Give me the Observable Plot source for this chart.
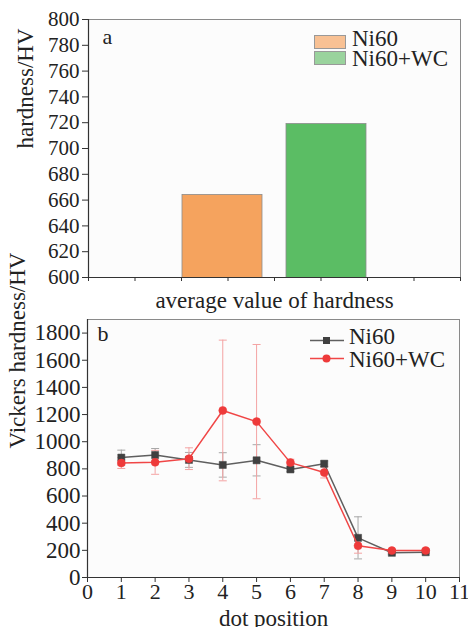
<!DOCTYPE html>
<html><head><meta charset="utf-8">
<script src="https://cdn.jsdelivr.net/npm/d3@7"></script>
<script src="https://cdn.jsdelivr.net/npm/@observablehq/plot@0.6"></script>
<style>
body{margin:0;background:#fff;}
#wrap{position:relative;width:468px;height:627px;overflow:hidden;font-family:"Liberation Serif",serif;color:#222;}
#wrap > svg{position:absolute;left:0;}
.leg{position:absolute;font-size:23px;line-height:20px;white-space:nowrap;}
.sym{position:absolute;}
</style></head><body><div id="wrap"></div>
<script>
// ---- panel a data ----
const barCategories = ["Ni60", "Ni60+WC"];
const barValues = [664, 719];
const barColors = ["#f5a35e", "#5bbd64"];
const swatchColors = ["#f8c194", "#9ad39d"];
const yTicksA = d3.range(600, 801, 20);
const xTitleA = "average value of hardness";
const yTitleA = "hardness/HV";

// ---- panel b data ----
const dotPositions = [1, 2, 3, 4, 5, 6, 7, 8, 9, 10];
const ni60Hardness = [883, 902, 866, 829, 863, 796, 838, 292, 182, 186];
const ni60Error = [55, 48, 55, 90, 115, 15, 20, 155, 10, 10];
const wcHardness = [843, 848, 875, 1230, 1148, 846, 773, 234, 198, 198];
const wcError = [40, 88, 80, 518, 568, 25, 40, 55, 10, 10];
const xTicksB = d3.range(0, 12);
const yTicksB = d3.range(0, 1801, 200);
const xTitleB = "dot position";
const yTitleB = "Vickers hardness/HV";
const seriesNames = ["Ni60", "Ni60+WC"];
const lineColors = ["#5f5f5f", "#f04646"];
const markColors = ["#404040", "#ee3a3a"];
const errColors = ["#a8a8a8", "#f4a3a3"];

const wrap = document.getElementById("wrap");
const font = "'Liberation Serif', 'Times New Roman', serif";

// ---------- Panel a ----------
const barsData = barCategories.map((c, i) => ({cat: c, value: barValues[i], color: barColors[i]}));
const commonA = {width: 468, height: 312, marginLeft: 88, marginRight: 8, marginTop: 19, marginBottom: 35};
const plotA = Plot.plot({
  ...commonA,
  style: {fontFamily: font, fontSize: "21px", color: "#222", background: "transparent"},
  x: {type: "band", domain: barCategories, paddingInner: 0.229, paddingOuter: 0.886, axis: null},
  y: {domain: [600, 800], axis: null},
  marks: [
    Plot.frame({fill: "#fcfcfc", stroke: "#8a8a8a"}),
    Plot.barY(barsData, {x: "cat", y: "value", fill: "color", stroke: "#8c8c8c", strokeWidth: 0.8, clip: true}),
    Plot.axisY({ticks: yTicksA, tickSize: 6, tickPadding: 3, stroke: "#333", fontSize: 21, tickFormat: d => String(d), label: null})
  ]
});
plotA.style.top = "0px";
wrap.appendChild(plotA);

const plotA2 = Plot.plot({
  ...commonA,
  style: {fontFamily: font, fontSize: "23px", color: "#222", background: "transparent", overflow: "visible"},
  x: {domain: [0, 8], axis: null},
  y: {domain: [600, 800], axis: null},
  marks: [
    Plot.ruleX([0], {stroke: "#333", strokeWidth: 1.2}),
    Plot.ruleY([600], {stroke: "#333", strokeWidth: 1.2}),
    Plot.axisX({ticks: d3.range(0, 9), tickSize: 4, tickFormat: () => "", stroke: "#333", label: null}),
    Plot.text([xTitleA], {frameAnchor: "bottom", dy: 30, lineAnchor: "bottom", fontSize: 23, fill: "#222"}),
    Plot.text([yTitleA], {frameAnchor: "left", dx: -63, rotate: -90, fontSize: 23, fill: "#222"}),
    Plot.text(["a"], {frameAnchor: "top-left", dx: 14, dy: 9, lineAnchor: "top", textAnchor: "start", fontSize: 22, fill: "#222"})
  ]
});
plotA2.style.top = "0px";
wrap.appendChild(plotA2);

// legend a: swatches and labels
const swTop = [35, 51];
const txtTopA = [29, 49];
barCategories.forEach((c, i) => {
  const s = document.createElement("div");
  s.className = "sym";
  s.style.cssText += `left:314px;top:${swTop[i]}px;width:30px;height:12px;background:${swatchColors[i]};border:1px solid #999;`;
  wrap.appendChild(s);
  const t = document.createElement("div");
  t.className = "leg";
  t.style.left = "352px";
  t.style.top = txtTopA[i] + "px";
  t.textContent = c;
  wrap.appendChild(t);
});

// ---------- Panel b ----------
const rows = [];
dotPositions.forEach((x, i) => {
  rows.push({s: 0, x, y: ni60Hardness[i], e: ni60Error[i]});
});
dotPositions.forEach((x, i) => {
  rows.push({s: 1, x, y: wcHardness[i], e: wcError[i]});
});
const capSymbol = {draw(ctx, size) { const r = Math.sqrt(size / Math.PI); ctx.moveTo(-r, 0); ctx.lineTo(r, 0); }};

const seriesMarks = [0, 1].flatMap(s => {
  const data = rows.filter(d => d.s === s);
  return [
    Plot.ruleX(data, {x: "x", y1: d => d.y - d.e, y2: d => d.y + d.e, stroke: errColors[s], strokeWidth: 1}),
    Plot.dot(data, {x: "x", y: d => d.y - d.e, symbol: capSymbol, r: 4, stroke: errColors[s], strokeWidth: 1}),
    Plot.dot(data, {x: "x", y: d => d.y + d.e, symbol: capSymbol, r: 4, stroke: errColors[s], strokeWidth: 1})
  ];
});
const lineMarks = [0, 1].flatMap(s => {
  const data = rows.filter(d => d.s === s);
  return [
    Plot.line(data, {x: "x", y: "y", stroke: lineColors[s], strokeWidth: 1.5}),
    Plot.dot(data, {x: "x", y: "y", symbol: s === 0 ? "square" : "circle", r: 4, fill: markColors[s], stroke: markColors[s], strokeWidth: 0.5})
  ];
});

const plotB = Plot.plot({
  width: 468, height: 315, marginLeft: 87, marginRight: 9, marginTop: 7, marginBottom: 50,
  style: {fontFamily: font, fontSize: "22px", color: "#222", background: "transparent", overflow: "visible"},
  x: {domain: [0, 11], axis: null},
  y: {domain: [0, 1900], axis: null},
  marks: [
    Plot.frame({fill: "#fcfcfc", stroke: "#8a8a8a"}),
    ...seriesMarks,
    ...lineMarks,
    Plot.ruleX([0], {stroke: "#333", strokeWidth: 1.2}),
    Plot.ruleY([0], {stroke: "#333", strokeWidth: 1.2}),
    Plot.axisX({ticks: xTicksB, tickSize: 5, tickPadding: 1, stroke: "#333", fontSize: 22, tickFormat: d => String(d), label: null}),
    Plot.axisY({ticks: yTicksB, tickSize: 5, tickPadding: 2, stroke: "#333", fontSize: 23, tickFormat: d => String(d), label: null}),
    Plot.text([xTitleB], {frameAnchor: "bottom", dy: 48, lineAnchor: "bottom", fontSize: 23, fill: "#222"}),
    Plot.text([yTitleB], {frameAnchor: "left", dx: -70, rotate: -90, fontSize: 23, fill: "#222"}),
    Plot.text(["b"], {frameAnchor: "top-left", dx: 10, dy: 6, lineAnchor: "top", textAnchor: "start", fontSize: 22, fill: "#222"})
  ]
});
plotB.style.top = "312px";
wrap.appendChild(plotB);

// legend b
const symTopB = [333, 351];
const txtTopB = [327, 350];
seriesNames.forEach((name, i) => {
  const s = document.createElementNS("http://www.w3.org/2000/svg", "svg");
  s.setAttribute("width", 34); s.setAttribute("height", 15);
  s.setAttribute("class", "sym");
  s.style.left = "310px"; s.style.top = symTopB[i] + "px";
  const sym = i === 0
    ? `<rect x="13" y="4" width="7" height="7" fill="${markColors[0]}"/>`
    : `<circle cx="16.5" cy="7.5" r="4" fill="${markColors[1]}"/>`;
  s.innerHTML = `<line x1="0" x2="34" y1="7.5" y2="7.5" stroke="${lineColors[i]}" stroke-width="1.5"/>${sym}`;
  wrap.appendChild(s);
  const t = document.createElement("div");
  t.className = "leg";
  t.style.left = "349px";
  t.style.top = txtTopB[i] + "px";
  t.textContent = name;
  wrap.appendChild(t);
});
</script></body></html>
